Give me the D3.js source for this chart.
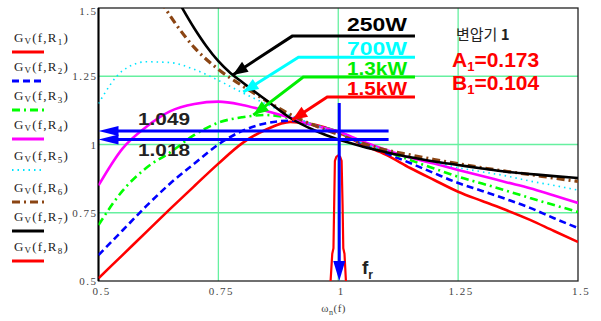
<!DOCTYPE html>
<html>
<head>
<meta charset="utf-8">
<script src="https://cdn.jsdelivr.net/npm/d3@7"></script>
<style>
  body { margin: 0; background: #fff; }
  svg { display: block; }
  .tick-lbl { font-family: "Liberation Serif", serif; font-size: 11px; fill: #444; letter-spacing: 1.5px; }
  .legend { font-family: "Liberation Serif", serif; font-size: 13px; fill: #222; letter-spacing: 1.2px; }
  .bold { font-family: "Liberation Sans", Arial, sans-serif; font-weight: bold; }
</style>
</head>
<body>
<div id="chart"></div>
<script>
// frame
const FRAME_WIDTH = 601;
const FRAME_HEIGHT = 321;
const MARGINS = {left: 98.5, right: 23, top: 8, bottom: 40};
const VIS_WIDTH = FRAME_WIDTH - MARGINS.left - MARGINS.right;
const VIS_HEIGHT = FRAME_HEIGHT - MARGINS.top - MARGINS.bottom;

// data (normalized frequency -> gain)
const F = [0.5, 0.55, 0.6, 0.65, 0.7, 0.75, 0.8, 0.85, 0.9, 0.95, 1.0,
           1.05, 1.1, 1.15, 1.2, 1.25, 1.3, 1.35, 1.4, 1.45, 1.5];
const R1 = [0.51, 0.595, 0.68, 0.765, 0.848, 0.93, 1.005, 1.055, 1.083, 1.073, 1.045,
            1.0, 0.962, 0.914, 0.87, 0.827, 0.793, 0.76, 0.724, 0.683, 0.643];
const R2 = [0.595, 0.685, 0.775, 0.858, 0.93, 1.0, 1.05, 1.078, 1.087, 1.07, 1.046,
            1.003, 0.968, 0.932, 0.895, 0.859, 0.83, 0.80, 0.768, 0.73, 0.694];
const R3 = [0.705, 0.83, 0.915, 0.972, 1.035, 1.08, 1.1, 1.108, 1.096, 1.071, 1.047,
            1.008, 0.975, 0.943, 0.912, 0.882, 0.857, 0.831, 0.804, 0.778, 0.753];
const R4 = [0.85, 0.985, 1.065, 1.122, 1.148, 1.157, 1.145, 1.123, 1.098, 1.07, 1.048,
            1.012, 0.98, 0.952, 0.93, 0.907, 0.885, 0.862, 0.84, 0.813, 0.786];
const R5 = [1.15, 1.27, 1.303, 1.30, 1.275, 1.235, 1.19, 1.148, 1.108, 1.072, 1.042,
            1.005, 0.978, 0.956, 0.935, 0.915, 0.9, 0.885, 0.866, 0.85, 0.833];
const F_R6 = [0.63, 0.65, 0.7, 0.75, 0.8, 0.85, 0.9, 0.95, 1.0, 1.05, 1.1,
              1.15, 1.2, 1.25, 1.3, 1.35, 1.4, 1.45, 1.5];
const R6 = [1.525, 1.47, 1.355, 1.275, 1.215, 1.16, 1.11, 1.07, 1.037, 1.005, 0.98,
            0.962, 0.945, 0.93, 0.915, 0.902, 0.89, 0.877, 0.865];
const F_R7 = [0.66, 0.7, 0.725, 0.75, 0.775, 0.8, 0.85, 0.9, 0.95, 1.0, 1.05, 1.1,
              1.15, 1.2, 1.25, 1.3, 1.35, 1.4, 1.45, 1.5];
const R7 = [1.545, 1.425, 1.36, 1.305, 1.262, 1.228, 1.162, 1.097, 1.052, 1.018, 0.993, 0.972,
            0.953, 0.938, 0.925, 0.912, 0.9, 0.892, 0.884, 0.877];
const F_R8 = [0.984, 0.9875, 0.99, 0.9915, 0.993, 0.996, 1.0, 1.004, 1.007, 1.009, 1.0105, 1.013, 1.016];
const R8 = [0.5, 0.6, 0.62, 0.78, 0.94, 0.955, 0.96, 0.955, 0.94, 0.78, 0.62, 0.6, 0.5];

const X_TICKS = [0.5, 0.75, 1, 1.25, 1.5];
const Y_TICKS = [0.5, 0.75, 1, 1.25, 1.5];
const GRID = [0.75, 1, 1.25];
const MARKED = [1.049, 1.018];

const SERIES = [
  {name: "1", f: F, g: R1, color: "#ff0000", width: 2.6, dash: null},
  {name: "2", f: F, g: R2, color: "#0000ff", width: 2.6, dash: "7,4"},
  {name: "3", f: F, g: R3, color: "#00ff00", width: 2.6, dash: "8,4,2,4"},
  {name: "4", f: F, g: R4, color: "#ff00ff", width: 2.6, dash: null},
  {name: "5", f: F, g: R5, color: "#00e5ff", width: 1.6, dash: "1.5,4"},
  {name: "6", f: F_R6, g: R6, color: "#8b4513", width: 3.2, dash: "8,4,2,4"},
  {name: "7", f: F_R7, g: R7, color: "#000000", width: 2.6, dash: null},
  {name: "8", f: F_R8, g: R8, color: "#ff0000", width: 2.2, dash: null}
];

const svg = d3.select("#chart").append("svg")
  .attr("width", FRAME_WIDTH)
  .attr("height", FRAME_HEIGHT);

const x = d3.scaleLinear().domain([0.5, 1.5]).range([MARGINS.left, MARGINS.left + VIS_WIDTH]);
const y = d3.scaleLinear().domain([0.5, 1.5]).range([MARGINS.top + VIS_HEIGHT, MARGINS.top]);

svg.append("defs").append("clipPath").attr("id", "plot")
  .append("rect")
    .attr("x", x(0.5)).attr("y", y(1.5))
    .attr("width", VIS_WIDTH).attr("height", VIS_HEIGHT);

// grid
svg.selectAll(".vgrid").data(GRID).enter().append("line")
  .attr("x1", d => x(d)).attr("x2", d => x(d))
  .attr("y1", y(0.5)).attr("y2", y(1.5))
  .attr("stroke", "#66f0a0").attr("stroke-width", 1.3);
svg.selectAll(".hgrid").data(GRID).enter().append("line")
  .attr("y1", d => y(d)).attr("y2", d => y(d))
  .attr("x1", x(0.5)).attr("x2", x(1.5))
  .attr("stroke", "#66f0a0").attr("stroke-width", 1.3);

// frame
svg.append("rect")
  .attr("x", x(0.5)).attr("y", y(1.5))
  .attr("width", VIS_WIDTH).attr("height", VIS_HEIGHT)
  .attr("fill", "none").attr("stroke", "#222").attr("stroke-width", 1.3);
svg.append("line")
  .attr("x1", x(0.5)).attr("x2", x(0.5)).attr("y1", y(0.5)).attr("y2", y(1.5))
  .attr("stroke", "#000").attr("stroke-width", 2);

// tick labels
svg.selectAll(".xl").data(X_TICKS).enter().append("text")
  .attr("class", "tick-lbl")
  .attr("x", d => x(d) + 3).attr("y", y(0.5) + 14)
  .attr("text-anchor", "middle")
  .text(d => d);
svg.selectAll(".yl").data(Y_TICKS).enter().append("text")
  .attr("class", "tick-lbl")
  .attr("x", x(0.5) - 1).attr("y", d => y(d) + (d === 1.5 ? 7 : 4))
  .attr("text-anchor", "end")
  .text(d => d);

// x label  ω_n(f)
const xl = svg.append("text").attr("class", "tick-lbl")
  .attr("x", x(1) - 17).attr("y", 312).style("letter-spacing", "0.5px");
xl.append("tspan").text("ω");
xl.append("tspan").attr("font-size", 8).attr("dy", 3).text("n");
xl.append("tspan").attr("dy", -3).text("(f)");

// curves
const line = d3.line().x(d => x(d[0])).y(d => y(d[1]));
const curves = svg.append("g").attr("clip-path", "url(#plot)");
SERIES.forEach(s => {
  curves.append("path")
    .datum(d3.zip(s.f, s.g))
    .attr("d", line.curve(s.name === "8" ? d3.curveLinear : d3.curveMonotoneX))
    .attr("fill", "none")
    .attr("stroke", s.color)
    .attr("stroke-width", s.width)
    .attr("stroke-dasharray", s.dash)
    .attr("stroke-linejoin", "round");
});

// legend
SERIES.forEach((s, i) => {
  const ly = [52, 81, 110, 139, 170, 202, 231, 261][i];
  const t = svg.append("text").attr("class", "legend").attr("x", 14).attr("y", ly - 10);
  t.append("tspan").text("G");
  t.append("tspan").attr("font-size", 9).attr("dy", 2).text("V");
  t.append("tspan").attr("dy", -2).text("(f,R");
  t.append("tspan").attr("font-size", 9).attr("dy", 3).text(s.name);
  t.append("tspan").attr("dy", -3).text(")");
  svg.append("line")
    .attr("x1", 12).attr("x2", 44).attr("y1", ly).attr("y2", ly)
    .attr("stroke", s.color).attr("stroke-width", s.name === "5" ? 2 : 3)
    .attr("stroke-dasharray", s.dash);
});

// arrow head helper
function arrowHead(x1, y1, x2, y2, color, len, half) {
  const a = Math.atan2(y2 - y1, x2 - x1);
  const bx = x2 - len * Math.cos(a), by = y2 - len * Math.sin(a);
  const px = -Math.sin(a) * half, py = Math.cos(a) * half;
  svg.append("polygon")
    .attr("points", [[x2, y2], [bx + px, by + py], [bx - px, by - py]].map(p => p.join(",")).join(" "))
    .attr("fill", color);
}

// power labels with leader arrows (data coords)
const LABELS = [
  {text: "250W", color: "#000", ty: 31, ly: 1.397, ex: 0.904, tip: [0.78, 1.255]},
  {text: "700W", color: "#00ffff", ty: 55, ly: 1.32, ex: 0.917, tip: [0.802, 1.192]},
  {text: "1.3kW", color: "#00ee00", ty: 75, ly: 1.247, ex: 0.927, tip: [0.823, 1.108]},
  {text: "1.5kW", color: "#ff0000", ty: 95, ly: 1.174, ex: 0.977, tip: [0.904, 1.09]}
];
LABELS.forEach(l => {
  svg.append("text").attr("class", "bold")
    .attr("x", 347).attr("y", l.ty)
    .attr("font-size", 19).attr("fill", l.color)
    .attr("textLength", 60).attr("lengthAdjust", "spacingAndGlyphs")
    .text(l.text);
  svg.append("polyline")
    .attr("points", [[x(1.16), y(l.ly)], [x(l.ex), y(l.ly)], [x(l.tip[0]), y(l.tip[1])]].map(p => p.join(",")).join(" "))
    .attr("fill", "none").attr("stroke", l.color).attr("stroke-width", 3);
  arrowHead(x(l.ex), y(l.ly), x(l.tip[0]), y(l.tip[1]), l.color, 15, 6);
});

// marked gains at resonance
MARKED.forEach(v => {
  svg.append("line")
    .attr("x1", x(0.5) + 16).attr("x2", x(1.105))
    .attr("y1", y(v)).attr("y2", y(v))
    .attr("stroke", "#0000ff").attr("stroke-width", 3);
  arrowHead(x(0.6), y(v), x(0.5), y(v), "#0000ff", 20, 5);
});
svg.append("text").attr("class", "bold").attr("x", 138).attr("y", y(1.049) - 6)
  .attr("font-size", 17).attr("fill", "#222")
  .attr("textLength", 52).attr("lengthAdjust", "spacingAndGlyphs").text("1.049");
svg.append("text").attr("class", "bold").attr("x", 138).attr("y", y(1.018) + 16)
  .attr("font-size", 17).attr("fill", "#222")
  .attr("textLength", 52).attr("lengthAdjust", "spacingAndGlyphs").text("1.018");

// resonance marker
svg.append("line")
  .attr("x1", x(1) + 1).attr("x2", x(1) + 1)
  .attr("y1", y(1.152)).attr("y2", y(0.5) - 16)
  .attr("stroke", "#0000ff").attr("stroke-width", 3);
arrowHead(x(1) + 1, y(0.7), x(1) + 1, y(0.5), "#0000ff", 20, 6);
const fr = svg.append("text").attr("class", "bold").attr("x", 362).attr("y", 274)
  .attr("font-size", 19).attr("fill", "#222");
fr.append("tspan").text("f");
fr.append("tspan").attr("font-size", 12).attr("dy", 5).text("r");

// transformer block
const tb = svg.append("text").attr("x", 456).attr("y", 40)
  .attr("font-family", "'Noto Sans CJK KR', sans-serif").attr("font-size", 15).attr("fill", "#222");
tb.append("tspan").text("변압기 ");
tb.append("tspan").attr("font-weight", "bold").text("1");

[["A", "0.173", 67], ["B", "0.104", 90]].forEach(([k, v, ty]) => {
  const t = svg.append("text").attr("class", "bold").attr("x", 452).attr("y", ty)
    .attr("font-size", 21).attr("fill", "#ff0000");
  t.append("tspan").text(k);
  t.append("tspan").attr("font-size", 13).attr("dy", 4).text("1");
  t.append("tspan").attr("dy", -4).text("=" + v);
});
</script>
</body>
</html>
